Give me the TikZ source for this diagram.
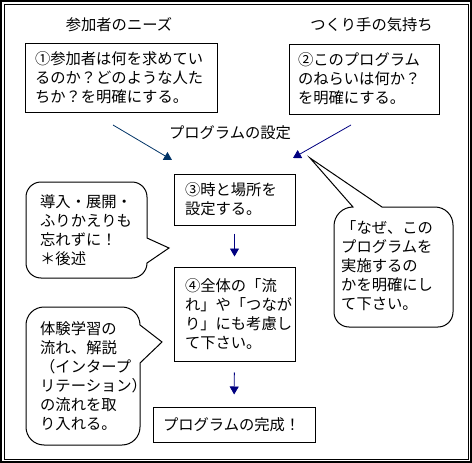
\documentclass[tikz,border=0pt]{standalone}
\usepackage{fontspec}
\setmainfont{Noto Sans CJK JP}
\usetikzlibrary{arrows.meta}
\definecolor{arrteal}{HTML}{003366}
\definecolor{arrnavy}{HTML}{000080}
\begin{document}
\begin{tikzpicture}[x=1pt,y=-1pt,
  jp/.style={font=\fontsize{15.3}{19}\selectfont},
  box/.style={jp,draw,line width=1pt,align=left,inner ysep=0pt},
  ttl/.style={jp,inner sep=0pt},
  note/.style={jp,align=left,anchor=west,inner sep=0pt},
  arr/.style={line width=0.8pt,-{Triangle[length=8pt,width=9pt]}},
  bubble/.style={draw,line width=1pt}]
\useasboundingbox (0,0) rectangle (472,463);
% frame
\draw[line width=2pt] (1,1) rectangle (471,462);
\draw[line width=1pt] (4,4) rectangle (468.5,459.5);
% titles
\node[ttl] (t1) at (119,25) {参加者のニーズ};
\node[ttl] (t2) at (371.5,25) {つくり手の気持ち};
\node[ttl] (t3) at (230,133) {プログラムの設定};
% boxes
\node[box,minimum width=192pt,minimum height=69pt,text width=172pt,inner xsep=10pt] (b1) at (121,77.5)
  {①参加者は何を求めてい\\るのか？どのような人た\\ちか？を明確にする。};
\node[box,minimum width=150pt,minimum height=70pt,text width=132pt,inner xsep=9pt] (b2) at (364,79)
  {②このプログラム\\のねらいは何か？\\を明確にする。};
\node[box,minimum width=121pt,minimum height=51pt,text width=99pt,inner xsep=11pt] (b3) at (234.5,199.5)
  {③時と場所を\\設定する。};
\node[box,minimum width=121pt,minimum height=94pt,text width=99pt,inner xsep=11pt] (b4) at (234.5,314)
  {④全体の「流\\れ」や「つなが\\り」にも考慮し\\て下さい。};
\node[box,minimum width=162pt,minimum height=35pt,text width=142pt,inner xsep=10pt] (b5) at (234,424.5)
  {プログラムの完成！};
% arrows
\coordinate (a1s) at (113,125);
\coordinate (a1e) at (172,160);
\coordinate (a2s) at (351,125);
\coordinate (a2e) at (293,158);
\draw[arr,arrteal] (a1s) -- (a1e);
\draw[arr,arrnavy] (a2s) -- (a2e);
\draw[arr,arrnavy,shorten <=8pt,shorten >=10pt] (b3.south) -- (b4.north);
\draw[arr,arrnavy,shorten <=11pt,shorten >=12pt] (b4.south) -- (b5.north);
% callouts
\draw[bubble] (147,238) -- (147,197) arc[start angle=0,end angle=-90,radius=15]
  -- (41,182) arc[start angle=-90,end angle=-180,radius=15]
  -- (26,263) arc[start angle=180,end angle=90,radius=15]
  -- (132,278) arc[start angle=90,end angle=0,radius=15]
  -- (169,248) -- cycle;
\draw[bubble] (140,363) -- (162,342) -- (140,325) arc[start angle=0,end angle=-90,radius=18]
  -- (44,307) arc[start angle=-90,end angle=-180,radius=18]
  -- (26,427) arc[start angle=180,end angle=90,radius=18]
  -- (122,445) arc[start angle=90,end angle=0,radius=18] -- cycle;
\draw[bubble] (382,207) -- (435,207) arc[start angle=-90,end angle=0,radius=18]
  -- (453,312) arc[start angle=0,end angle=90,radius=15]
  -- (349,327) arc[start angle=90,end angle=180,radius=15]
  -- (334,226) arc[start angle=180,end angle=270,radius=19]
  -- (310,158) -- cycle;
\node[note] (n1) at (40,230) {導入・展開・\\ふりかえりも\\忘れずに！\\＊後述};
\node[note] (n2) at (40,376) {体験学習の\\流れ、解説\\（インタープ\\リテーション）\\の流れを取\\り入れる。};
\node[note] (n3) at (341,266) {「なぜ、この\\プログラムを\\実施するの\\かを明確にし\\て下さい。};
\end{tikzpicture}
\end{document}
